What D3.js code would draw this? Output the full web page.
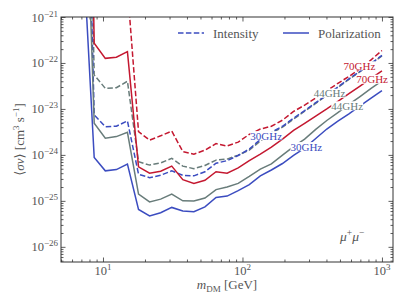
<!DOCTYPE html>
<html>
<head>
<meta charset="utf-8">
<script src="https://cdn.jsdelivr.net/npm/d3@7"></script>
<style>
  body { margin: 0; background: #fff; }
  text { font-family: "Liberation Serif", "DejaVu Serif", serif; fill: #555; }
</style>
</head>
<body>
<div id="chart"></div>
<script>
// dark matter mass grid [GeV]
const mass = [7.21, 8.65, 10.39, 12.47, 14.97, 17.98, 21.58, 25.91, 31.11, 37.35, 44.84, 53.84,
  64.64, 77.61, 93.18, 111.9, 134.3, 161.2, 193.6, 232.4, 279.1, 335.1, 402.3, 483.0, 579.9,
  696.3, 835.9, 1000];

// <sigma v> limits [cm^3 s^-1]
const intensity30 = [2e-14, 7.4e-24, 4.1e-24, 4.2e-24, 5.5e-24, 3.8e-25, 3.2e-25, 3.6e-25, 4.5e-25,
  3.6e-25, 3.5e-25, 4.3e-25, 6.6e-25, 7.5e-25, 9.7e-25, 1.34e-24, 2.16e-24, 3.1e-24, 4.2e-24,
  6.3e-24, 9.2e-24, 1.37e-23, 2.0e-23, 3.0e-23, 4.5e-23, 6.6e-23, 9.8e-23, 1.46e-22];
const intensity44 = [1e-11, 5.5e-23, 2.8e-23, 2.9e-23, 4.0e-23, 7.1e-25, 6.0e-25, 6.7e-25, 8.4e-25,
  5.7e-25, 5.0e-25, 5.9e-25, 7.7e-25, 8.1e-25, 9.9e-25, 1.27e-24, 2.0e-24, 3.0e-24, 4.0e-24,
  6.0e-24, 8.9e-24, 1.32e-23, 2.0e-23, 2.9e-23, 4.4e-23, 6.5e-23, 9.7e-23, 1.42e-22];
const intensity70 = [1e-8, 1e-20, 5e-21, 5e-21, 4.3e-21, 3.2e-24, 2.1e-24, 2.6e-24, 3.3e-24,
  1.18e-24, 1.04e-24, 1.27e-24, 1.76e-24, 1.56e-24, 1.9e-24, 2.8e-24, 3.65e-24, 4.2e-24, 5.7e-24,
  8.8e-24, 1.21e-23, 1.74e-23, 2.5e-23, 3.6e-23, 5.1e-23, 7.4e-23, 1.17e-22, 1.87e-22];
const polarization30 = [2.7e-20, 8.8e-25, 4.5e-25, 4.8e-25, 6.3e-25, 6.5e-26, 4.7e-26, 5.5e-26, 7.2e-26,
  6.0e-26, 5.8e-26, 7.4e-26, 1.19e-25, 1.27e-25, 1.67e-25, 2.26e-25, 3.5e-25, 4.7e-25, 6.5e-25,
  9.8e-25, 1.41e-24, 2.27e-24, 3.65e-24, 5.4e-24, 7.8e-24, 1.16e-23, 1.72e-23, 2.5e-23];
const polarization44 = [1e-16, 4.9e-24, 2.3e-24, 2.5e-24, 3.1e-24, 1.4e-25, 9.5e-26, 1.09e-25, 1.4e-25,
  1.0e-25, 9.9e-26, 1.15e-25, 1.76e-25, 2.0e-25, 2.4e-25, 3.4e-25, 4.9e-25, 6.4e-25, 9.9e-25,
  1.52e-24, 2.2e-24, 3.6e-24, 5.6e-24, 8.3e-24, 1.25e-23, 1.86e-23, 2.8e-23, 4.1e-23];
const polarization70 = [1e-8, 2.7e-22, 1.26e-22, 1.33e-22, 1.76e-22, 5.5e-25, 4.0e-25, 4.4e-25, 5.7e-25,
  2.9e-25, 2.4e-25, 2.8e-25, 4.3e-25, 4.0e-25, 5.2e-25, 7.5e-25, 1.04e-24, 1.48e-24, 2.2e-24,
  3.4e-24, 4.85e-24, 7.0e-24, 1.0e-23, 1.46e-23, 2.15e-23, 3.15e-23, 4.6e-23, 6.7e-23];

// in-line labels: mass where each label sits on its curve
const labelMass = [148, 287, 421, 563, 690, 850];

const xTicks = [10, 100, 1000];
const xTickExp = ["1", "2", "3"];
const yTicks = [1e-26, 1e-25, 1e-24, 1e-23, 1e-22, 1e-21];
const yTickExp = ["\u221226", "\u221225", "\u221224", "\u221223", "\u221222", "\u221221"];

const blue = "#3b4cc0", gray = "#687c7a", red = "#c41830";

const series = [
  {name: "30GHz", vals: intensity30, color: blue, dash: true, nudge: 0},
  {name: "30GHz", vals: polarization30, color: blue, dash: false, nudge: 0},
  {name: "44GHz", vals: intensity44, color: gray, dash: true, nudge: 0},
  {name: "44GHz", vals: polarization44, color: gray, dash: false, nudge: 0},
  {name: "70GHz", vals: intensity70, color: red, dash: true, nudge: -3.5},
  {name: "70GHz", vals: polarization70, color: red, dash: false, nudge: 1.5}
];
// draw order: intensity first, then polarization
const drawOrder = [4, 2, 0, 5, 3, 1];

const W = 407, H = 305;
const L = 61, R = 393, T = 17, B = 262;

const svg = d3.select("#chart").append("svg")
  .attr("width", W).attr("height", H);

const x = d3.scaleLog().domain([5, 1200]).range([L, R]);
const y = d3.scaleLog().domain([Math.pow(10, -26.33), 1e-21]).range([B, T]);

// minor ticks
const xMinor = [];
[1, 10, 100].forEach(d => { for (let k = 2; k <= 9; k++) if (d * k >= 5 && d * k <= 1200) xMinor.push(d * k); });
const yMinor = [];
[1e-27, 1e-26, 1e-25, 1e-24, 1e-23, 1e-22].forEach(d => { for (let k = 2; k <= 9; k++) if (d * k >= y.domain()[0]) yMinor.push(d * k); });

function tickAxis(axis, tr, vals, size) {
  const g = svg.append("g").attr("transform", tr)
    .call(axis.tickValues(vals).tickSize(size).tickFormat(""));
  g.select(".domain").remove();
  g.selectAll("line").attr("stroke", "#333").attr("stroke-width", 0.8);
}
tickAxis(d3.axisBottom(x), `translate(0,${B})`, xTicks, -4.5);
tickAxis(d3.axisBottom(x), `translate(0,${B})`, xMinor, -2.5);
tickAxis(d3.axisTop(x), `translate(0,${T})`, xTicks, -4.5);
tickAxis(d3.axisTop(x), `translate(0,${T})`, xMinor, -2.5);
tickAxis(d3.axisLeft(y), `translate(${L},0)`, yTicks, -4.5);
tickAxis(d3.axisLeft(y), `translate(${L},0)`, yMinor, -2.5);
tickAxis(d3.axisRight(y), `translate(${R},0)`, yTicks, -4.5);
tickAxis(d3.axisRight(y), `translate(${R},0)`, yMinor, -2.5);

// tick labels
xTicks.forEach((v, i) => {
  const t = svg.append("text").attr("x", x(v)).attr("y", 275)
    .attr("text-anchor", "middle").style("font-size", "12.5px");
  t.append("tspan").text("10");
  t.append("tspan").attr("dy", -5).style("font-size", "9px").text(xTickExp[i]);
});
yTicks.forEach((v, i) => {
  const t = svg.append("text").attr("x", 58).attr("y", y(v) + 4.5)
    .attr("text-anchor", "end").style("font-size", "12.5px");
  t.append("tspan").text("10");
  t.append("tspan").attr("dy", -5).style("font-size", "9px").text(yTickExp[i]);
});

// curves
svg.append("clipPath").attr("id", "clip")
  .append("rect").attr("x", L).attr("y", T).attr("width", R - L).attr("height", B - T);

const line = d3.line().x(d => x(d[0])).y(d => y(d[1]));
const plot = svg.append("g").attr("clip-path", "url(#clip)");

drawOrder.forEach(i => {
  const s = series[i];
  plot.append("path")
    .datum(mass.map((m, j) => [m, s.vals[j]]))
    .attr("d", line)
    .attr("fill", "none")
    .attr("stroke", s.color)
    .attr("stroke-width", 1.5)
    .attr("stroke-dasharray", s.dash ? "5.5,2.4" : null);
});

// labels on lines
function valueAt(vals, m) {
  const j = d3.bisectRight(mass, m) - 1;
  const t = (Math.log(m) - Math.log(mass[j])) / (Math.log(mass[j + 1]) - Math.log(mass[j]));
  return Math.exp(Math.log(vals[j]) + t * (Math.log(vals[j + 1]) - Math.log(vals[j])));
}
series.forEach((s, i) => {
  const m = labelMass[i];
  const g = svg.append("g");
  const t = g.append("text")
    .attr("x", x(m)).attr("y", y(valueAt(s.vals, m)) + 4 + s.nudge)
    .attr("text-anchor", "middle")
    .style("font-size", "11px")
    .style("fill", s.color)
    .text(s.name);
  const bb = t.node().getBBox();
  g.insert("rect", "text")
    .attr("x", bb.x).attr("y", bb.y + 1.5)
    .attr("width", bb.width).attr("height", bb.height - 3)
    .attr("fill", "#fff");
});

// frame
svg.append("rect").attr("x", L).attr("y", T).attr("width", R - L).attr("height", B - T)
  .attr("fill", "none").attr("stroke", "#333").attr("stroke-width", 1);

// legend
const legend = [{label: "Intensity", dash: true, x0: 178}, {label: "Polarization", dash: false, x0: 283}];
legend.forEach(d => {
  svg.append("line").attr("x1", d.x0).attr("x2", d.x0 + 26).attr("y1", 33).attr("y2", 33)
    .attr("stroke", blue).attr("stroke-width", 1.5)
    .attr("stroke-dasharray", d.dash ? "5.5,2.4" : null);
  svg.append("text").attr("x", d.x0 + 35).attr("y", 37.5)
    .style("font-size", "13px").text(d.label);
});

// channel annotation
const ch = svg.append("text").attr("x", 340).attr("y", 241).style("font-size", "13.5px");
ch.append("tspan").style("font-style", "italic").text("\u03bc");
ch.append("tspan").attr("dy", -5).style("font-size", "9.5px").text("+");
ch.append("tspan").attr("dy", 5).style("font-style", "italic").text("\u03bc");
ch.append("tspan").attr("dy", -5).style("font-size", "9.5px").text("\u2212");

// axis titles
const xl = svg.append("text").attr("x", (L + R) / 2).attr("y", 289)
  .attr("text-anchor", "middle").style("font-size", "13px");
xl.append("tspan").style("font-style", "italic").text("m");
xl.append("tspan").attr("dy", 3).style("font-size", "9px").text("DM");
xl.append("tspan").attr("dy", -3).text(" [GeV]");

const yl = svg.append("text")
  .attr("transform", `translate(24,${(T + B) / 2}) rotate(-90)`)
  .attr("text-anchor", "middle").style("font-size", "13px");
yl.append("tspan").text("\u27e8");
yl.append("tspan").style("font-style", "italic").text("\u03c3v");
yl.append("tspan").text("\u27e9 [cm");
yl.append("tspan").attr("dy", -5).style("font-size", "9px").text("3");
yl.append("tspan").attr("dy", 5).text(" s");
yl.append("tspan").attr("dy", -5).style("font-size", "9px").text("\u22121");
yl.append("tspan").attr("dy", 5).text("]");
</script>
</body>
</html>
